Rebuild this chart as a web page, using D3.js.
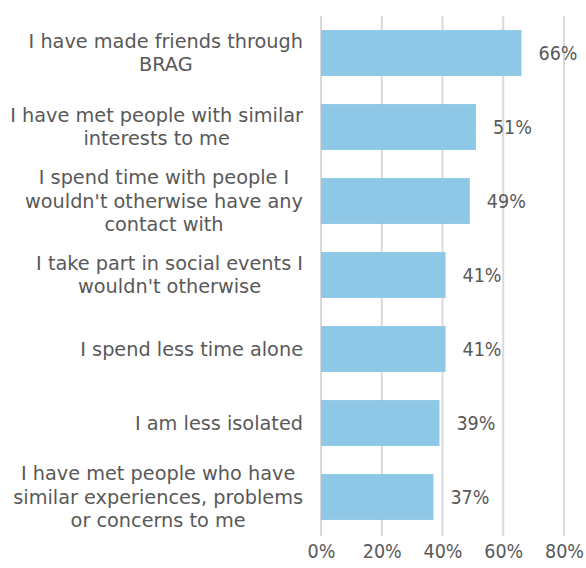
<!DOCTYPE html>
<html>
<head>
<meta charset="utf-8">
<script src="https://cdn.jsdelivr.net/npm/d3@7"></script>
<style>
  html, body { margin: 0; padding: 0; background: #ffffff; }
  svg { display: block; }
  text { font-family: "DejaVu Sans Condensed", "DejaVu Sans", sans-serif; fill: #595959; }
  text.cat { font-family: "DejaVu Sans", sans-serif; }
</style>
</head>
<body>
<svg id="chart" width="586" height="568"></svg>
<script>
// Survey statements (each entry is one wrapped label, one array item per line)
const categories = [
  ["I have made friends through", "BRAG"],
  ["I have met people with similar", "interests to me"],
  ["I spend time with people I", "wouldn't otherwise have any", "contact with"],
  ["I take part in social events I", "wouldn't otherwise"],
  ["I spend less time alone"],
  ["I am less isolated"],
  ["I have met people who have", "similar experiences, problems", "or concerns to me"]
];
// Share of respondents agreeing, in percent
const values = [66, 51, 49, 41, 41, 39, 37];
// Horizontal axis ticks, in percent
const ticks = [0, 20, 40, 60, 80];

const W = 586, H = 568;
const margin = { left: 321, right: 22, top: 16, bottom: 34 };
const fontSize = 19.5;
const catFontSize = 19.3;
const lineHeight = 23.5;

const svg = d3.select("#chart");

const x = d3.scaleLinear()
  .domain([0, 80])
  .range([margin.left, W - margin.right]);

const y = d3.scaleBand()
  .domain(d3.range(values.length))
  .range([margin.top, H - margin.bottom])
  .paddingInner(0.38)
  .paddingOuter(0.19);

// vertical gridlines
svg.append("g")
  .selectAll("line")
  .data(ticks)
  .join("line")
  .attr("x1", d => x(d)).attr("x2", d => x(d))
  .attr("y1", margin.top).attr("y2", H - margin.bottom + 2)
  .attr("stroke", "#d9d9d9")
  .attr("stroke-width", 2);

// axis tick labels
const xAxis = d3.axisBottom(x)
  .tickValues(ticks)
  .tickFormat(d => d + "%")
  .tickSize(0)
  .tickPadding(0);

const axisG = svg.append("g")
  .attr("transform", `translate(0, ${H - 17})`)
  .call(xAxis);
axisG.select(".domain").remove();
axisG.selectAll("text")
  .attr("dy", null)
  .attr("y", 0)
  .attr("dominant-baseline", "central")
  .style("font-family", "\"DejaVu Sans Condensed\", \"DejaVu Sans\", sans-serif")
  .style("font-size", fontSize + "px")
  .attr("fill", "#595959");

// bars
svg.append("g")
  .selectAll("rect")
  .data(values)
  .join("rect")
  .attr("x", x(0))
  .attr("y", (d, i) => y(i))
  .attr("width", d => x(d) - x(0))
  .attr("height", y.bandwidth())
  .attr("fill", "#8fc8e7");

// value labels
svg.append("g")
  .selectAll("text")
  .data(values)
  .join("text")
  .attr("x", d => x(d) + 17)
  .attr("y", (d, i) => y(i) + y.bandwidth() / 2)
  .attr("dominant-baseline", "central")
  .style("font-size", fontSize + "px")
  .text(d => d + "%");

// category labels: lines centred on each other, block right-aligned
const labelRight = margin.left - 18;
const labelG = svg.append("g");
categories.forEach((lines, i) => {
  const cy = y(i) + y.bandwidth() / 2;
  const t = labelG.append("text")
    .attr("class", "cat")
    .attr("text-anchor", "middle")
    .style("font-size", catFontSize + "px");
  const spans = lines.map((ln, k) => t.append("tspan")
    .attr("y", cy + (k - (lines.length - 1) / 2) * lineHeight)
    .attr("dominant-baseline", "central")
    .text(ln));
  const maxW = d3.max(spans, s => s.node().getComputedTextLength());
  spans.forEach(s => s.attr("x", labelRight - maxW / 2));
});
</script>
</body>
</html>
